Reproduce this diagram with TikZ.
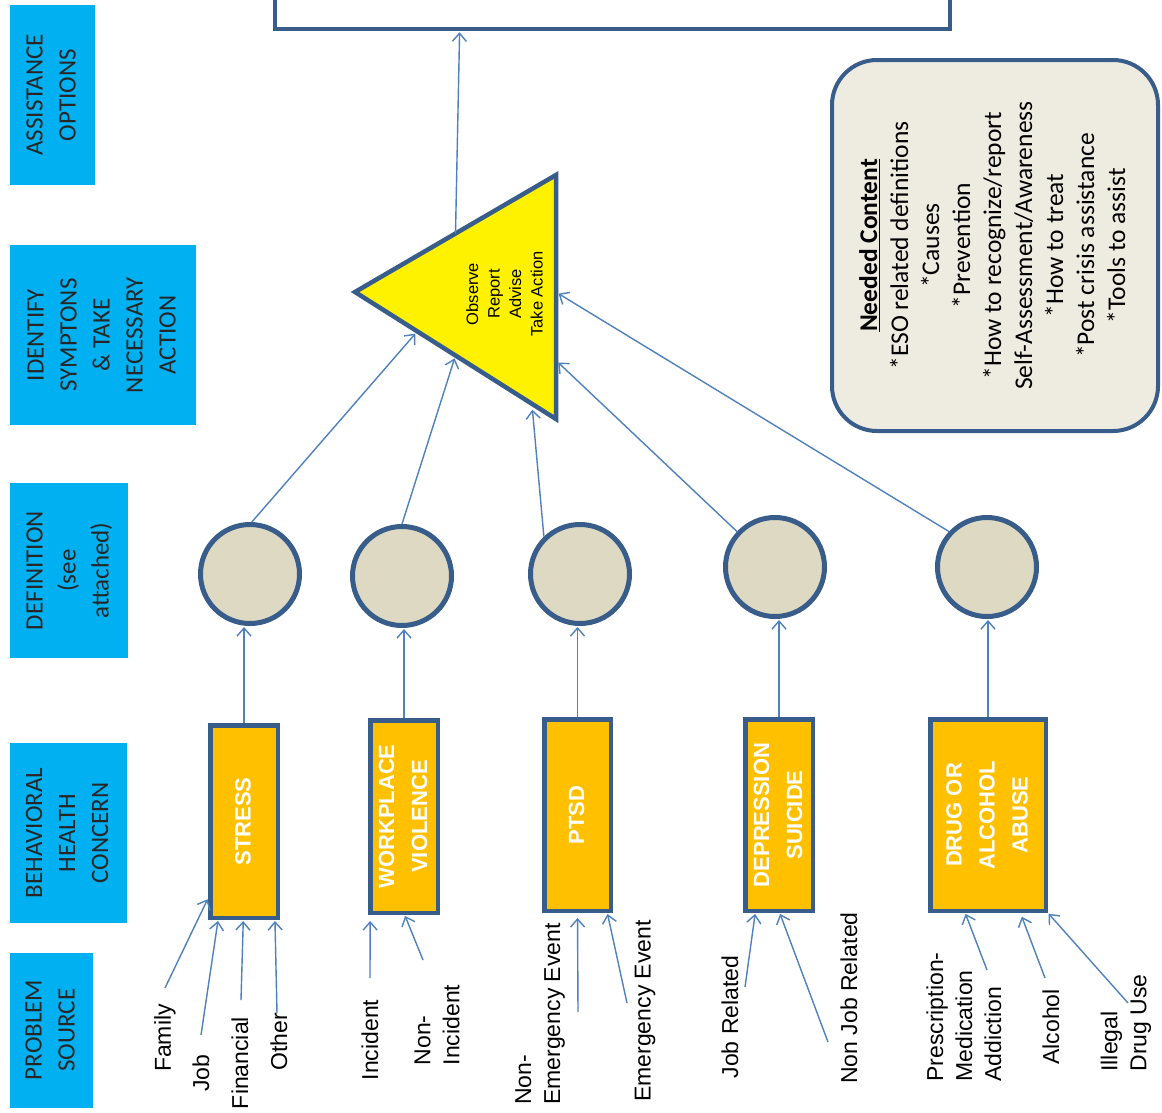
\documentclass[tikz,border=0pt]{standalone}
\usepackage{fontspec}
\setmainfont{Carlito}
\newfontfamily\arialf{Liberation Sans}
\usepackage{graphicx}
\usetikzlibrary{arrows.meta,calc}
\definecolor{bluefill}{HTML}{00B0F0}
\definecolor{orangefill}{HTML}{FFC000}
\definecolor{outl}{HTML}{385D8A}
\definecolor{connc}{HTML}{4F81BD}
\definecolor{circfill}{HTML}{DDD9C3}
\definecolor{needfill}{HTML}{EEECE1}
\newcommand{\rtab}[1]{\rotatebox{90}{\begin{tabular}{@{}c@{}}#1\end{tabular}}}
\tikzset{
  bluebox/.style={rectangle, fill=bluefill, draw=none, inner sep=0pt, text=black!85,
    font=\fontsize{25}{33}\selectfont},
  orangebox/.style={rectangle, draw=outl, line width=4.5pt, fill=orangefill, inner sep=0pt,
    text=white, font=\arialf\bfseries\fontsize{22}{33}\selectfont},
  defcircle/.style={circle, draw=outl, line width=5pt, fill=circfill, minimum size=99pt, inner sep=0pt},
  conn/.style={draw=connc, line width=1.4pt, -{Straight Barb[length=8pt,width=14pt]}, shorten >=1pt},
  src/.style={rotate=90, font=\arialf\fontsize{23}{29}\selectfont, align=left, inner sep=0pt, text=black},
}
\begin{document}
\begin{tikzpicture}[x=1pt,y=-1pt]
\useasboundingbox (0,0) rectangle (1162,1112);
\clip (0,0) rectangle (1162,1112);
\fill[white] (0,0) rectangle (1162,1112);

% left column labels
\node[bluebox, minimum width=85pt, minimum height=180pt] (hAssist) at (52.5,95) {\rtab{ASSISTANCE\\OPTIONS}};
\node[bluebox, minimum width=186pt, minimum height=180pt] (hIdent) at (103,335) {\rtab{IDENTIFY\\SYMPTONS\\\& TAKE\\NECESSARY\\ACTION}};
\node[bluebox, minimum width=118pt, minimum height=175pt] (hDef) at (69,570.5) {\rtab{DEFINITION\\(see\\attached)}};
\node[bluebox, minimum width=117pt, minimum height=180pt] (hBeh) at (68.5,833) {\rtab{BEHAVIORAL\\HEALTH\\CONCERN}};
\node[bluebox, minimum width=83pt, minimum height=155pt] (hProb) at (51.5,1030) {\rtab{PROBLEM\\SOURCE}};

% top box
\node[rectangle, draw=outl, line width=4.5pt, fill=white, minimum width=675pt, minimum height=89pt, inner sep=0pt] (topbox) at (612.5,-15.5) {};

% needed content box
\node[rectangle, rounded corners=45pt, draw=outl, line width=4pt, fill=needfill,
  minimum width=326pt, minimum height=371pt, inner sep=0pt,
  font=\fontsize{25.5}{31}\selectfont, text=black] (needed) at (995,245.5)
  {\rtab{\textbf{\underline{Needed Content}}\\{}*ESO related definitions\\{}*Causes\\{}*Prevention\\{}*How to recognize/report\\{}Self-Assessment/Awareness\\{}*How to treat\\{}*Post crisis assistance\\{}*Tools to assist}};

% triangle
\coordinate (tA) at (355,292);
\coordinate (tB) at (556,175);
\coordinate (tC) at (556,419);
\draw[draw=outl, line width=4.5pt, fill=yellow, line join=miter] (tA) -- (tB) -- (tC) -- cycle;
\node[font=\arialf\fontsize{16.5}{21.5}\selectfont, text=black, inner sep=0pt] (tritext) at (506,294)
  {\rtab{Observe\\Report\\Advise\\Take Action}};

% definition circles
\node[defcircle] (c1) at (250,574) {};
\node[defcircle] (c2) at (402,576) {};
\node[defcircle] (c3) at (580,574) {};
\node[defcircle] (c4) at (775,567) {};
\node[defcircle] (c5) at (987,567) {};

% concern boxes
\node[orangebox, minimum width=67.5pt, minimum height=192.5pt] (rStress) at (244,821.5) {\rtab{STRESS}};
\node[orangebox, minimum width=67.5pt, minimum height=192.5pt] (rWork) at (404,816.5) {\rtab{WORKPLACE\\VIOLENCE}};
\node[orangebox, minimum width=66.5pt, minimum height=191.5pt] (rPtsd) at (577.5,815) {\rtab{PTSD}};
\node[orangebox, minimum width=67.5pt, minimum height=191.5pt] (rDep) at (779,815) {\rtab{DEPRESSION\\SUICIDE}};
\node[orangebox, minimum width=115.5pt, minimum height=191.5pt] (rDrug) at (988,815) {\rtab{DRUG OR\\ALCOHOL\\ABUSE}};

% triangle edge points
\coordinate (p1) at ($(tA)!0.31!(tC)$);
\coordinate (p2) at ($(tA)!0.5!(tC)$);
\coordinate (p3) at ($(tA)!0.88!(tC)$);
\coordinate (p4) at ($(tB)!0.76!(tC)$);
\coordinate (p5) at ($(tB)!0.48!(tC)$);
\coordinate (ptop) at ($(tA)!0.5!(tB)$);

% connectors: triangle -> top box
\draw[conn] (ptop) -- ($(topbox.south west)!0.275!(topbox.south east)$);
% circles -> triangle
\draw[conn, shorten >=3pt] (c1.88) -- (p1);
\draw[conn, shorten >=3pt] (c2.north) -- (p2);
\draw[conn, shorten >=6pt] (c3.134) -- (p3);
\draw[conn, shorten >=3pt] (c4.137) -- (p4);
\draw[conn, shorten >=3pt] (c5.137) -- (p5);
% boxes -> circles
\draw[conn] (rStress.north) -- (rStress.north |- c1.south);
\draw[conn] (rWork.north) -- (rWork.north |- c2.south);
\draw[conn] (rPtsd.north) -- (rPtsd.north |- c3.south);
\draw[conn] (rDep.north) -- (rDep.north |- c4.south);
\draw[conn] (rDrug.north) -- (rDrug.north |- c5.south);

% problem source labels
\node[src] (lFamily) at (165,1038) {Family};
\node[src] (lJob) at (201,1073) {Job};
\node[src] (lFin) at (240,1063) {Financial};
\node[src] (lOther) at (279,1042) {Other};
\node[src] (lInc) at (370,1040) {Incident};
\node[src] (lNonInc) at (437,1025) {Non-\\Incident};
\node[src] (lNonEm) at (540,1014) {Non-\\Emergency Event};
\node[src] (lEm) at (645,1011) {Emergency Event};
\node[src] (lJobRel) at (730,1017) {Job Related};
\node[src] (lNonJob) at (849,998) {Non Job Related};
\node[src] (lPresc) at (964,1017) {Prescription-\\Medication\\Addiction};
\node[src] (lAlc) at (1051,1027) {Alcohol};
\node[src] (lIll) at (1126,1023) {Illegal\\Drug Use};

% free ends of source arrows
\coordinate (sFamily) at (165,988);
\coordinate (sJob) at (201,1035);
\coordinate (sFin) at (241,1000);
\coordinate (sOther) at (277,1013);
\coordinate (sInc) at (370,978);
\coordinate (sNonInc) at (423,960);
\coordinate (sNonEm) at (578,1012);
\coordinate (sEm) at (627,1003);
\coordinate (sJobRel) at (745,987);
\coordinate (sNonJob) at (828,1042);
\coordinate (sPresc) at (987,970);
\coordinate (sAlc) at (1045,978);
\coordinate (sIll) at (1128,1003);

\draw[conn] (sFamily) -- ($(rStress.south west)!0.11!(rStress.north west)$);
\draw[conn] (sJob) -- ($(rStress.south west)!0.14!(rStress.south east)$);
\draw[conn] (sFin) -- ($(rStress.south west)!0.49!(rStress.south east)$);
\draw[conn] (sOther) -- ($(rStress.south west)!0.93!(rStress.south east)$);
\draw[conn, shorten >=6pt] (sInc) -- ($(rWork.south west)!0.03!(rWork.south east)$);
\draw[conn] (sNonInc) -- ($(rWork.south west)!0.51!(rWork.south east)$);
\draw[conn, shorten >=5pt] (sNonEm) -- ($(rPtsd.south west)!0.5!(rPtsd.south east)$);
\draw[conn] (sEm) -- ($(rPtsd.south west)!0.92!(rPtsd.south east)$);
\draw[conn] (sJobRel) -- ($(rDep.south west)!0.17!(rDep.south east)$);
\draw[conn] (sNonJob) -- ($(rDep.south west)!0.51!(rDep.south east)$);
\draw[conn] (sPresc) -- ($(rDrug.south west)!0.31!(rDrug.south east)$);
\draw[conn, shorten >=4pt] (sAlc) -- ($(rDrug.south west)!0.77!(rDrug.south east)$);
\draw[conn] (sIll) -- ($(rDrug.south west)!1.0!(rDrug.south east)$);
\end{tikzpicture}
\end{document}
